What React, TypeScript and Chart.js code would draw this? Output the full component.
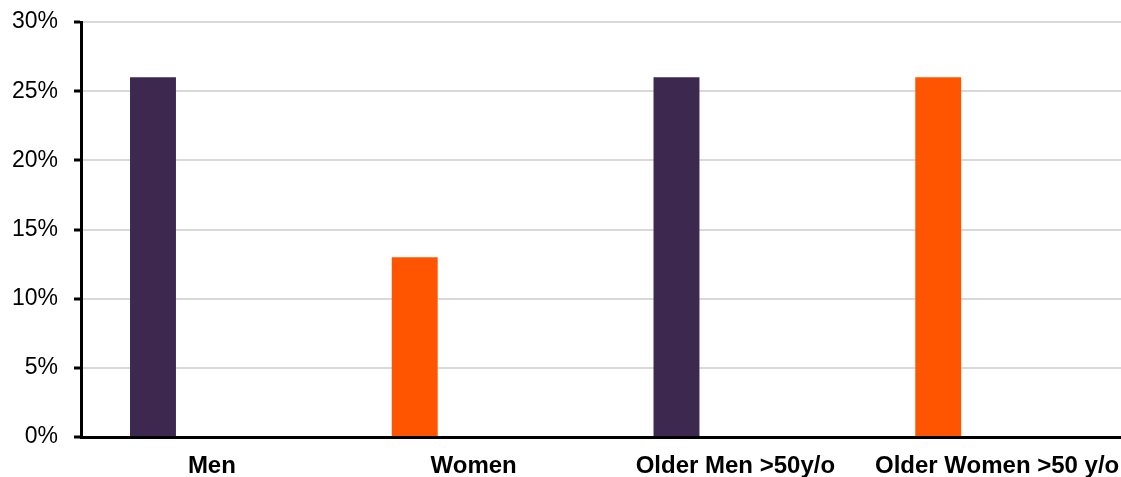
import React, { useEffect, useRef } from "react";
import { Chart, registerables } from "chart.js";

Chart.register(...registerables);

const categories = ["Men", "Women", "Older Men >50y/o", "Older Women >50 y/o"];
const shareValues = [26, 13, 26, 26];
const emptyValues: (number | null)[] = [null, null, null, null];
const barColors = ["#3D2950", "#FF5500", "#3D2950", "#FF5500"];
const yTicks = [0, 5, 10, 15, 20, 25, 30];

export default function App() {
  const ref = useRef<HTMLCanvasElement>(null);

  useEffect(() => {
    document.body.style.margin = "0";
    if (!ref.current) return;
    const chart = new Chart(ref.current, {
      type: "bar",
      data: {
        labels: categories,
        datasets: [
          {
            label: "Share",
            data: shareValues,
            backgroundColor: barColors,
            borderWidth: 0,
            barPercentage: 0.39,
            categoryPercentage: 0.9,
          },
          {
            label: "Empty",
            data: emptyValues,
            backgroundColor: "transparent",
            borderWidth: 0,
            barPercentage: 0.39,
            categoryPercentage: 0.9,
          },
        ],
      },
      options: {
        animation: false,
        responsive: true,
        maintainAspectRatio: false,
        layout: { padding: { top: 22, right: 0, left: 0, bottom: 0 } },
        plugins: {
          legend: { display: false },
          tooltip: { enabled: false },
        },
        scales: {
          x: {
            afterFit: (scale: any) => {
              scale.height = 40;
              scale.paddingLeft = 0;
              scale.paddingRight = 0;
            },
            grid: { display: true, drawOnChartArea: false, drawTicks: false },
            border: { display: true, color: "#000000", width: 3 },
            ticks: {
              color: "#000000",
              padding: 15,
              maxRotation: 0,
              autoSkip: false,
              font: { family: "'Liberation Sans', Arial, sans-serif", size: 24, weight: "bold" },
            },
          },
          y: {
            min: 0,
            max: 30,
            afterFit: (scale: any) => {
              scale.width = 81;
              scale.paddingTop = 0;
              scale.paddingBottom = 0;
            },
            afterBuildTicks: (scale: any) => {
              scale.ticks = yTicks.map((v) => ({ value: v }));
            },
            grid: {
              color: "#D9D9D9",
              lineWidth: 2,
              tickColor: "#000000",
              tickWidth: 3,
              tickLength: 7,
            },
            border: { display: true, color: "#000000", width: 3 },
            ticks: {
              color: "#000000",
              padding: 16,
              callback: (v: any) => v + "%",
              font: { family: "'Liberation Sans', Arial, sans-serif", size: 23 },
            },
          },
        },
      },
    });
    return () => chart.destroy();
  }, []);

  return (
    <div style={{ position: "fixed", left: 0, top: 0, width: 1121, height: 477, overflow: "hidden", background: "#fff" }}>
      <div style={{ position: "relative", width: 1128, height: 477 }}>
        <canvas ref={ref} />
      </div>
    </div>
  );
}
